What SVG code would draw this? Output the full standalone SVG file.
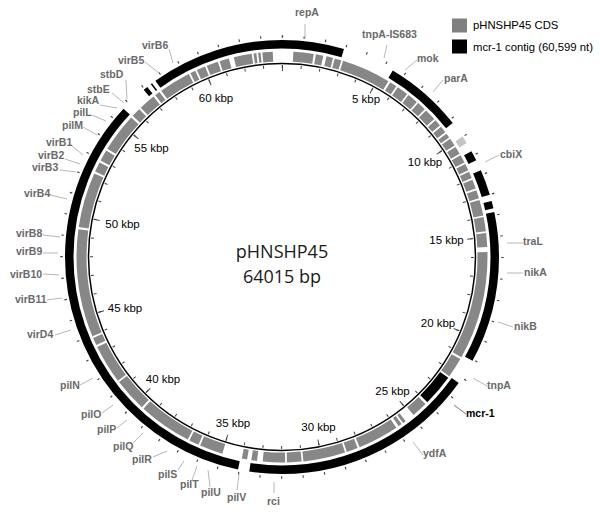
<svg xmlns="http://www.w3.org/2000/svg" width="600" height="519" viewBox="0 0 600 519">
<style>
.cds{fill:none;stroke:#878787;stroke-width:10}
.ctg{fill:none;stroke:#000;stroke-width:8.5}
.lbl{font-family:"Liberation Sans",Arial,sans-serif;font-size:10.5px;font-weight:bold;fill:#6a6a6a}
.kbp{font-family:"Liberation Sans",Arial,sans-serif;font-size:11.5px;fill:#000;text-anchor:middle}
.leg{font-family:"Liberation Sans",Arial,sans-serif;font-size:11.3px;fill:#000}
.lead{stroke:#a3a3a3;stroke-width:0.8;fill:none}
.tick{fill:none;stroke:#444}
</style>
<rect width="600" height="519" fill="#fff"/>

<!-- ticks and backbone -->
<g id="ticks" transform="rotate(-90 282 257)">
  <circle class="tick" cx="282" cy="257" r="220.5" stroke-width="2.5" pathLength="360" stroke-dasharray="0.3 5.3237"/>
  <circle class="tick" cx="282" cy="257" r="190.5" stroke-width="3" pathLength="360" stroke-dasharray="0.3 5.3237"/>
  <circle class="tick" cx="282" cy="257" r="189" stroke-width="6" pathLength="360" stroke-dasharray="0.3 27.8185"/>
</g>
<circle id="backbone" cx="282" cy="257" r="193.5" fill="none" stroke="#000" stroke-width="1.5"/>

<!-- CDS track -->
<g id="cds-track" transform="rotate(-90 282 257)">
  <circle class="cds" cx="282" cy="257" r="200.5" pathLength="360" stroke-dasharray="5.7 720" stroke-dashoffset="-3.2"/>
  <circle class="cds" cx="282" cy="257" r="200.5" pathLength="360" stroke-dasharray="2.1 720" stroke-dashoffset="-9.5"/>
  <circle class="cds" cx="282" cy="257" r="200.5" pathLength="360" stroke-dasharray="1.9 720" stroke-dashoffset="-12.5"/>
  <circle class="cds" cx="282" cy="257" r="200.5" pathLength="360" stroke-dasharray="1.9 720" stroke-dashoffset="-14.9"/>
  <circle class="cds" cx="282" cy="257" r="200.5" pathLength="360" stroke-dasharray="13.9 720" stroke-dashoffset="-17.3"/>
  <circle class="cds" cx="282" cy="257" r="200.5" pathLength="360" stroke-dasharray="2.0 720" stroke-dashoffset="-31.8"/>
  <circle class="cds" cx="282" cy="257" r="200.5" pathLength="360" stroke-dasharray="3.2 720" stroke-dashoffset="-34.3"/>
  <circle class="cds" cx="282" cy="257" r="200.5" pathLength="360" stroke-dasharray="3.0 720" stroke-dashoffset="-38.0"/>
  <circle class="cds" cx="282" cy="257" r="200.5" pathLength="360" stroke-dasharray="2.5 720" stroke-dashoffset="-41.5"/>
  <circle class="cds" cx="282" cy="257" r="200.5" pathLength="360" stroke-dasharray="3.3 720" stroke-dashoffset="-44.5"/>
  <circle class="cds" cx="282" cy="257" r="200.5" pathLength="360" stroke-dasharray="1.9 720" stroke-dashoffset="-48.3"/>
  <circle class="cds" cx="282" cy="257" r="200.5" pathLength="360" stroke-dasharray="1.9 720" stroke-dashoffset="-50.7"/>
  <circle class="cds" cx="282" cy="257" r="200.5" pathLength="360" stroke-dasharray="1.3 720" stroke-dashoffset="-53.1"/>
  <circle class="cds" cx="282" cy="257" r="200.5" pathLength="360" stroke-dasharray="2.2 720" stroke-dashoffset="-54.9"/>
  <circle class="cds" cx="282" cy="257" r="200.5" pathLength="360" stroke-dasharray="2.2 720" stroke-dashoffset="-57.6"/>
  <circle class="cds" cx="282" cy="257" r="200.5" pathLength="360" stroke-dasharray="2.3 720" stroke-dashoffset="-60.3"/>
  <circle class="cds" cx="282" cy="257" r="200.5" pathLength="360" stroke-dasharray="1.9 720" stroke-dashoffset="-63.1"/>
  <circle class="cds" cx="282" cy="257" r="200.5" pathLength="360" stroke-dasharray="1.9 720" stroke-dashoffset="-65.5"/>
  <circle class="cds" cx="282" cy="257" r="200.5" pathLength="360" stroke-dasharray="2.6 720" stroke-dashoffset="-67.9"/>
  <circle class="cds" cx="282" cy="257" r="200.5" pathLength="360" stroke-dasharray="2.4 720" stroke-dashoffset="-71.0"/>
  <circle class="cds" cx="282" cy="257" r="200.5" pathLength="360" stroke-dasharray="4.4 720" stroke-dashoffset="-73.9"/>
  <circle class="cds" cx="282" cy="257" r="200.5" pathLength="360" stroke-dasharray="4.0 720" stroke-dashoffset="-78.8"/>
  <circle class="cds" cx="282" cy="257" r="200.5" pathLength="360" stroke-dasharray="3.9 720" stroke-dashoffset="-83.3"/>
  <circle class="cds" cx="282" cy="257" r="200.5" pathLength="360" stroke-dasharray="30.6 720" stroke-dashoffset="-88.6"/>
  <circle class="cds" cx="282" cy="257" r="200.5" pathLength="360" stroke-dasharray="5.7 720" stroke-dashoffset="-119.8"/>
  <circle class="cds" cx="282" cy="257" r="200.5" pathLength="360" stroke-dasharray="9.0 720" stroke-dashoffset="-126.0" style="stroke:#000"/>
  <circle class="cds" cx="282" cy="257" r="200.5" pathLength="360" stroke-dasharray="4.5 720" stroke-dashoffset="-135.7"/>
  <circle class="cds" cx="282" cy="257" r="200.5" pathLength="360" stroke-dasharray="0.9 720" stroke-dashoffset="-143.0"/>
  <circle class="cds" cx="282" cy="257" r="200.5" pathLength="360" stroke-dasharray="1.0 720" stroke-dashoffset="-144.4"/>
  <circle class="cds" cx="282" cy="257" r="200.5" pathLength="360" stroke-dasharray="11.6 720" stroke-dashoffset="-146.2"/>
  <circle class="cds" cx="282" cy="257" r="200.5" pathLength="360" stroke-dasharray="3.2 720" stroke-dashoffset="-158.4"/>
  <circle class="cds" cx="282" cy="257" r="200.5" pathLength="360" stroke-dasharray="11.9 720" stroke-dashoffset="-162.1"/>
  <circle class="cds" cx="282" cy="257" r="200.5" pathLength="360" stroke-dasharray="4.1 720" stroke-dashoffset="-174.5"/>
  <circle class="cds" cx="282" cy="257" r="200.5" pathLength="360" stroke-dasharray="6.3 720" stroke-dashoffset="-179.1"/>
  <circle class="cds" cx="282" cy="257" r="200.5" pathLength="360" stroke-dasharray="1.6 720" stroke-dashoffset="-187.0"/>
  <circle class="cds" cx="282" cy="257" r="200.5" pathLength="360" stroke-dasharray="1.5 720" stroke-dashoffset="-189.8"/>
  <circle class="cds" cx="282" cy="257" r="200.5" pathLength="360" stroke-dasharray="6.6 720" stroke-dashoffset="-196.9"/>
  <circle class="cds" cx="282" cy="257" r="200.5" pathLength="360" stroke-dasharray="2.8 720" stroke-dashoffset="-204.0"/>
  <circle class="cds" cx="282" cy="257" r="200.5" pathLength="360" stroke-dasharray="15.1 720" stroke-dashoffset="-207.3"/>
  <circle class="cds" cx="282" cy="257" r="200.5" pathLength="360" stroke-dasharray="9.5 720" stroke-dashoffset="-223.0"/>
  <circle class="cds" cx="282" cy="257" r="200.5" pathLength="360" stroke-dasharray="11.0 720" stroke-dashoffset="-233.0"/>
  <circle class="cds" cx="282" cy="257" r="200.5" pathLength="360" stroke-dasharray="2.2 720" stroke-dashoffset="-244.6"/>
  <circle class="cds" cx="282" cy="257" r="200.5" pathLength="360" stroke-dasharray="30.5 720" stroke-dashoffset="-247.3"/>
  <circle class="cds" cx="282" cy="257" r="200.5" pathLength="360" stroke-dasharray="15.6 720" stroke-dashoffset="-278.4"/>
  <circle class="cds" cx="282" cy="257" r="200.5" pathLength="360" stroke-dasharray="2.8 720" stroke-dashoffset="-294.6"/>
  <circle class="cds" cx="282" cy="257" r="200.5" pathLength="360" stroke-dasharray="3.2 720" stroke-dashoffset="-298.0"/>
  <circle class="cds" cx="282" cy="257" r="200.5" pathLength="360" stroke-dasharray="11.0 720" stroke-dashoffset="-301.8"/>
  <circle class="cds" cx="282" cy="257" r="200.5" pathLength="360" stroke-dasharray="2.6 720" stroke-dashoffset="-313.4"/>
  <circle class="cds" cx="282" cy="257" r="200.5" pathLength="360" stroke-dasharray="4.7 720" stroke-dashoffset="-316.6"/>
  <circle class="cds" cx="282" cy="257" r="200.5" pathLength="360" stroke-dasharray="1.5 720" stroke-dashoffset="-321.9"/>
  <circle class="cds" cx="282" cy="257" r="200.5" pathLength="360" stroke-dasharray="9.0 720" stroke-dashoffset="-324.0"/>
  <circle class="cds" cx="282" cy="257" r="200.5" pathLength="360" stroke-dasharray="1.5 720" stroke-dashoffset="-333.5"/>
  <circle class="cds" cx="282" cy="257" r="200.5" pathLength="360" stroke-dasharray="2.5 720" stroke-dashoffset="-335.5"/>
  <circle class="cds" cx="282" cy="257" r="200.5" pathLength="360" stroke-dasharray="3.3 720" stroke-dashoffset="-338.5"/>
  <circle class="cds" cx="282" cy="257" r="200.5" pathLength="360" stroke-dasharray="2.7 720" stroke-dashoffset="-342.3"/>
  <circle class="cds" cx="282" cy="257" r="200.5" pathLength="360" stroke-dasharray="5.1 720" stroke-dashoffset="-346.4"/>
  <circle class="cds" cx="282" cy="257" r="200.5" pathLength="360" stroke-dasharray="0.8 720" stroke-dashoffset="-352.0"/>
  <circle class="cds" cx="282" cy="257" r="200.5" pathLength="360" stroke-dasharray="0.7 720" stroke-dashoffset="-353.3"/>
  <circle class="cds" cx="282" cy="257" r="200.5" pathLength="360" stroke-dasharray="2.9 720" stroke-dashoffset="-354.5"/>
</g>

<!-- mcr-1 contig track -->
<g id="contig-track" transform="rotate(-90 282 257)">
  <circle class="ctg" cx="282" cy="257" r="212.75" pathLength="360" stroke-dasharray="35.7 720" stroke-dashoffset="-324.3"/>
  <circle class="ctg" cx="282" cy="257" r="212.75" pathLength="360" stroke-dasharray="16.6 720" stroke-dashoffset="0"/>
  <circle class="ctg" cx="282" cy="257" r="212.75" pathLength="360" stroke-dasharray="21.2 720" stroke-dashoffset="-30.7"/>
  <circle class="ctg" cx="282" cy="257" r="212.75" pathLength="360" stroke-dasharray="2.0 720" stroke-dashoffset="-56.3" style="stroke:#c4c4c4"/>
  <circle class="ctg" cx="282" cy="257" r="212.75" pathLength="360" stroke-dasharray="2.7 720" stroke-dashoffset="-60.8"/>
  <circle class="ctg" cx="282" cy="257" r="212.75" pathLength="360" stroke-dasharray="6.9 720" stroke-dashoffset="-66.4"/>
  <circle class="ctg" cx="282" cy="257" r="212.75" pathLength="360" stroke-dasharray="2.0 720" stroke-dashoffset="-75.0"/>
  <circle class="ctg" cx="282" cy="257" r="212.75" pathLength="360" stroke-dasharray="40.6 720" stroke-dashoffset="-78.0"/>
  <circle class="ctg" cx="282" cy="257" r="212.75" pathLength="360" stroke-dasharray="63.2 720" stroke-dashoffset="-125.5"/>
  <circle class="ctg" cx="282" cy="257" r="212.75" pathLength="360" stroke-dasharray="121.4 720" stroke-dashoffset="-191.7"/>
  <circle class="ctg" cx="282" cy="257" r="212.75" pathLength="360" stroke-dasharray="1.2 720" stroke-dashoffset="-320.4"/>
  <circle class="ctg" cx="282" cy="257" r="212.75" pathLength="360" stroke-dasharray="0.4 720" stroke-dashoffset="-322.8"/>
</g>

<!-- kbp scale labels -->
<g id="scale-labels" class="kbp">
  <text x="366" y="103">5 kbp</text>
  <text x="425" y="166">10 kbp</text>
  <text x="446.5" y="244">15 kbp</text>
  <text x="438" y="327">20 kbp</text>
  <text x="392.5" y="395">25 kbp</text>
  <text x="318.5" y="431">30 kbp</text>
  <text x="233" y="427">35 kbp</text>
  <text x="163" y="383">40 kbp</text>
  <text x="125" y="312">45 kbp</text>
  <text x="122.5" y="228">50 kbp</text>
  <text x="151.5" y="152">55 kbp</text>
  <text x="216" y="102">60 kbp</text>
</g>

<!-- title -->
<g id="title" font-family="'Open Sans','Noto Sans',sans-serif" font-size="18" fill="#1a1a1a" text-anchor="middle">
  <text x="282" y="258">pHNSHP45</text>
  <text x="282" y="283">64015 bp</text>
</g>

<!-- legend -->
<g id="legend">
  <rect x="452" y="18.5" width="15" height="14" fill="#808080"/>
  <text class="leg" x="473" y="29">pHNSHP45 CDS</text>
  <rect x="452" y="39.5" width="15" height="14" fill="#000"/>
  <text class="leg" x="473" y="51">mcr-1 contig (60,599 nt)</text>
</g>

<!-- leader lines -->
<g id="leaders" class="lead">
  <line x1="305" y1="24" x2="305" y2="39"/>
  <line x1="387" y1="45" x2="384" y2="58"/>
  <line x1="417" y1="60" x2="405" y2="70"/>
  <line x1="443" y1="80" x2="433" y2="92"/>
  <line x1="499" y1="155" x2="485" y2="162"/>
  <line x1="507" y1="243" x2="523" y2="243"/>
  <line x1="507" y1="273" x2="523" y2="273"/>
  <line x1="498" y1="322" x2="513" y2="327"/>
  <line x1="473" y1="378" x2="487" y2="386"/>
  <line x1="454" y1="405" x2="466" y2="414" stroke="#555"/>
  <line x1="413" y1="442" x2="423" y2="455"/>
  <line x1="274" y1="482" x2="274" y2="493"/>
  <line x1="239" y1="474" x2="237" y2="490"/>
  <line x1="208" y1="470" x2="210" y2="487"/>
  <line x1="197" y1="466" x2="192" y2="480"/>
  <line x1="184" y1="461" x2="178" y2="470"/>
  <line x1="167" y1="451" x2="153" y2="457"/>
  <line x1="143" y1="433" x2="133" y2="443"/>
  <line x1="127" y1="420" x2="117" y2="428"/>
  <line x1="113" y1="405" x2="102" y2="413"/>
  <line x1="93" y1="378" x2="80" y2="385"/>
  <line x1="71" y1="330" x2="55" y2="335"/>
  <line x1="62" y1="298" x2="47" y2="300"/>
  <line x1="59" y1="275" x2="43" y2="274"/>
  <line x1="58" y1="253" x2="43" y2="253"/>
  <line x1="60" y1="237" x2="43" y2="235"/>
  <line x1="67" y1="199" x2="50" y2="195"/>
  <line x1="76" y1="172" x2="60" y2="170"/>
  <line x1="80" y1="164" x2="65" y2="159"/>
  <line x1="83" y1="155" x2="72" y2="146"/>
  <line x1="97" y1="135" x2="83" y2="127"/>
  <line x1="106" y1="121" x2="92" y2="115"/>
  <line x1="117" y1="108" x2="100" y2="105"/>
  <line x1="124" y1="103" x2="112" y2="93"/>
  <line x1="127" y1="99" x2="126" y2="80"/>
  <line x1="159" y1="73" x2="145" y2="62"/>
  <line x1="173" y1="63" x2="169" y2="49"/>
</g>

<!-- gene labels -->
<g id="gene-labels" class="lbl">
  <g id="g-repA"><text x="295" y="16">repA</text></g>
  <g id="g-tnpA-IS683"><text x="362" y="38">tnpA-IS683</text></g>
  <g id="g-mok"><text x="417" y="61.5">mok</text></g>
  <g id="g-parA"><text x="444" y="81.5">parA</text></g>
  <g id="g-cbiX"><text x="500" y="158">cbiX</text></g>
  <g id="g-traL"><text x="523" y="245">traL</text></g>
  <g id="g-nikA"><text x="524" y="276">nikA</text></g>
  <g id="g-nikB"><text x="514" y="330">nikB</text></g>
  <g id="g-tnpA"><text x="487" y="388.5">tnpA</text></g>
  <g id="g-mcr-1"><text x="466" y="417" style="fill:#000">mcr-1</text></g>
  <g id="g-ydfA"><text x="423" y="457">ydfA</text></g>
  <g id="g-rci"><text x="267" y="504.5">rci</text></g>
  <g id="g-pilV"><text x="227" y="500.5">pilV</text></g>
  <g id="g-pilU"><text x="201" y="496">pilU</text></g>
  <g id="g-pilT"><text x="180" y="488">pilT</text></g>
  <g id="g-pilS"><text x="158" y="478">pilS</text></g>
  <g id="g-pilR"><text x="132" y="463">pilR</text></g>
  <g id="g-pilQ"><text x="113" y="449.5">pilQ</text></g>
  <g id="g-pilP"><text x="97" y="433">pilP</text></g>
  <g id="g-pilO"><text x="81" y="418">pilO</text></g>
  <g id="g-pilN"><text x="60" y="388.5">pilN</text></g>
  <g id="g-virD4"><text x="27" y="338">virD4</text></g>
  <g id="g-virB11"><text x="15" y="303">virB11</text></g>
  <g id="g-virB10"><text x="10" y="278">virB10</text></g>
  <g id="g-virB9"><text x="16" y="255">virB9</text></g>
  <g id="g-virB8"><text x="16" y="237">virB8</text></g>
  <g id="g-virB4"><text x="24" y="196.5">virB4</text></g>
  <g id="g-virB3"><text x="32" y="170.5">virB3</text></g>
  <g id="g-virB2"><text x="38" y="159">virB2</text></g>
  <g id="g-virB1"><text x="46" y="145.5">virB1</text></g>
  <g id="g-pilM"><text x="62" y="128.5">pilM</text></g>
  <g id="g-pilL"><text x="73" y="116">pilL</text></g>
  <g id="g-kikA"><text x="77" y="104">kikA</text></g>
  <g id="g-stbE"><text x="87" y="92.5">stbE</text></g>
  <g id="g-stbD"><text x="100" y="78">stbD</text></g>
  <g id="g-virB5"><text x="118" y="63.5">virB5</text></g>
  <g id="g-virB6"><text x="142" y="49">virB6</text></g>
</g>
</svg>
